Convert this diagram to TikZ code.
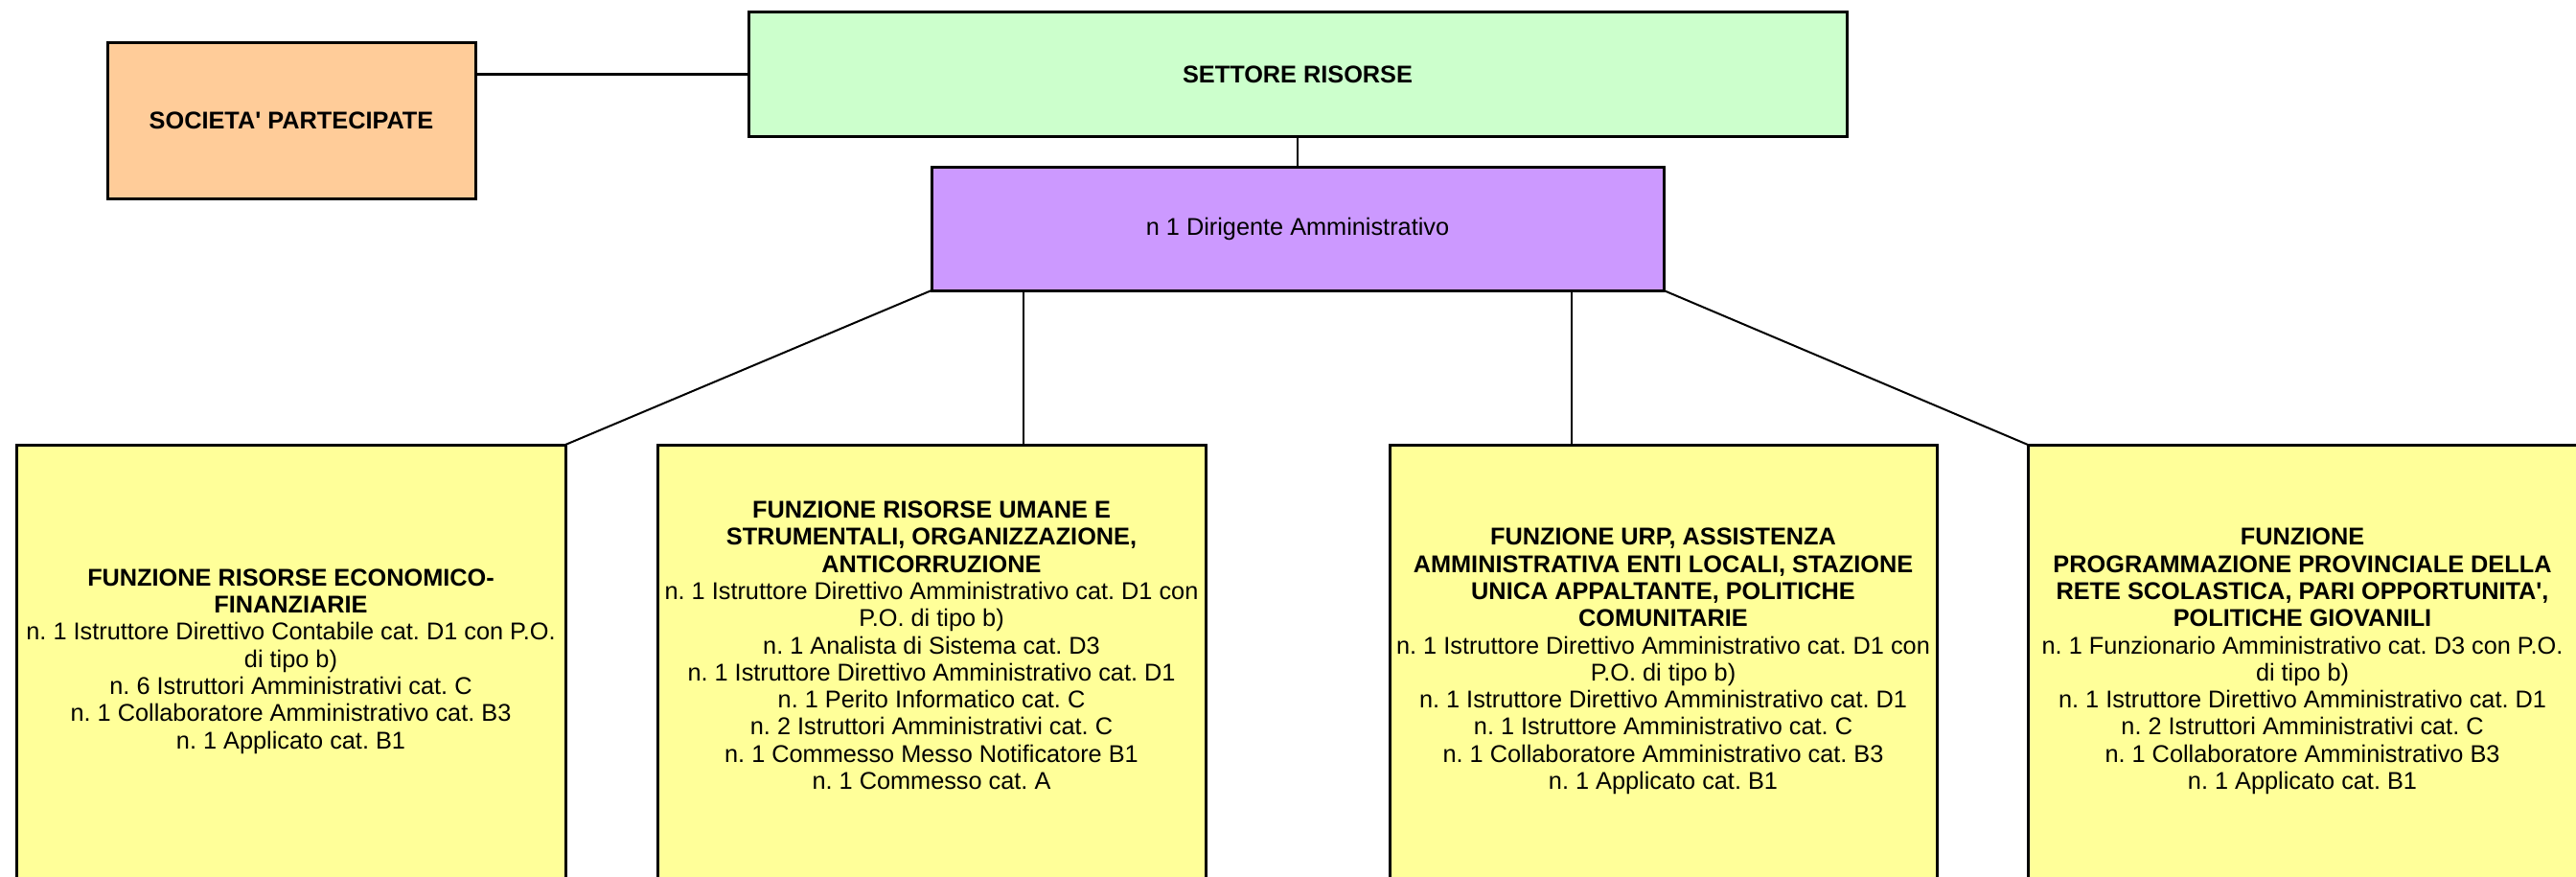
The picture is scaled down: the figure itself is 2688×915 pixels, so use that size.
\documentclass[tikz,border=0pt]{standalone}
\usepackage{xcolor}
\usepackage{fontspec}
\usepackage{tikz}
\setmainfont{Liberation Sans}
\frenchspacing
\definecolor{orgorange}{HTML}{FFCC99}
\definecolor{orggreen}{HTML}{CCFFCC}
\definecolor{orgviolet}{HTML}{CC99FF}
\definecolor{orgyellow}{HTML}{FFFF99}

\begin{document}
\begin{tikzpicture}[x=1pt, y=-1pt,
    box/.style={draw, line width=3pt, inner sep=0pt, outer sep=0pt, align=center,
      font=\fontsize{25.3}{28.3}\selectfont},
    funz/.style={box, fill=orgyellow, minimum height=452pt},
    link/.style={line width=2pt}]
  \useasboundingbox (0,0) rectangle (2688,915);
  \clip (0,0) rectangle (2688,915);

  \node[box, fill=orgorange, minimum width=384pt, minimum height=162pt] (societa) at (304,126)
    {\textbf{SOCIETA\textquotesingle{} PARTECIPATE}};
  \node[box, fill=orggreen, minimum width=1146pt, minimum height=130pt] (settore) at (1354,78)
    {\textbf{SETTORE RISORSE}};
  \node[box, fill=orgviolet, minimum width=764pt, minimum height=129pt] (dirigente) at (1354,238.5)
    {n 1 Dirigente Amministrativo};

  \node[funz, minimum width=573pt] (f1) at (303.5,690) {%
    \textbf{FUNZIONE RISORSE ECONOMICO-}\\
    \textbf{FINANZIARIE}\\
    n. 1 Istruttore Direttivo Contabile cat. D1 con P.O.\\
    di tipo b)\\
    n. 6 Istruttori Amministrativi cat. C\\
    n. 1 Collaboratore Amministrativo cat. B3\\
    n. 1 Applicato cat. B1};
  \node[funz, minimum width=572pt, text depth=33.6pt] (f2) at (972,690) {%
    \textbf{FUNZIONE RISORSE UMANE E}\\
    \textbf{STRUMENTALI, ORGANIZZAZIONE,}\\
    \textbf{ANTICORRUZIONE}\\
    n. 1 Istruttore Direttivo Amministrativo cat. D1 con\\
    P.O. di tipo b)\\
    n. 1 Analista di Sistema cat. D3\\
    n. 1 Istruttore Direttivo Amministrativo cat. D1\\
    n. 1 Perito Informatico cat. C\\
    n. 2 Istruttori Amministrativi cat. C\\
    n. 1 Commesso Messo Notificatore B1\\
    n. 1 Commesso cat. A};
  \node[funz, minimum width=571pt] (f3) at (1735.5,690) {%
    \textbf{FUNZIONE URP, ASSISTENZA}\\
    \textbf{AMMINISTRATIVA ENTI LOCALI, STAZIONE}\\
    \textbf{UNICA APPALTANTE, POLITICHE}\\
    \textbf{COMUNITARIE}\\
    n. 1 Istruttore Direttivo Amministrativo cat. D1 con\\
    P.O. di tipo b)\\
    n. 1 Istruttore Direttivo Amministrativo cat. D1\\
    n. 1 Istruttore Amministrativo cat. C\\
    n. 1 Collaboratore Amministrativo cat. B3\\
    n. 1 Applicato cat. B1};
  \node[funz, minimum width=573pt] (f4) at (2402.5,690) {%
    \textbf{FUNZIONE}\\
    \textbf{PROGRAMMAZIONE PROVINCIALE DELLA}\\
    \textbf{RETE SCOLASTICA, PARI OPPORTUNITA\textquotesingle,}\\
    \textbf{POLITICHE GIOVANILI}\\
    n. 1 Funzionario Amministrativo cat. D3 con P.O.\\
    di tipo b)\\
    n. 1 Istruttore Direttivo Amministrativo cat. D1\\
    n. 2 Istruttori Amministrativi cat. C\\
    n. 1 Collaboratore Amministrativo B3\\
    n. 1 Applicato cat. B1};

  % connectors
  \coordinate (d2) at ([xshift=96pt]dirigente.south west);
  \coordinate (d3) at ([xshift=-96pt]dirigente.south east);
  \draw[line width=3pt] (settore.west) -- (settore.west -| societa.east);
  \draw[link, line width=2.5pt] (settore.south) -- (dirigente.north);
  \draw[link] (dirigente.south west) -- (f1.north east);
  \draw[link] (d2) -- (d2 |- f2.north);
  \draw[link] (d3) -- (d3 |- f3.north);
  \draw[link] (dirigente.south east) -- (f4.north west);
\end{tikzpicture}
\end{document}
